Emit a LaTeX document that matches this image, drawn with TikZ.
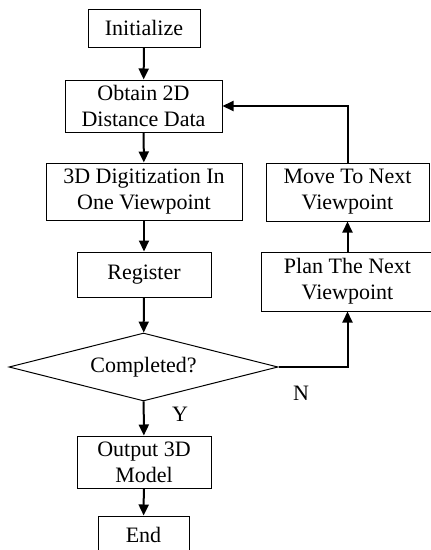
\documentclass[tikz,border=0pt]{standalone}
\usepackage{fontspec}
\setmainfont{Liberation Serif}
\usetikzlibrary{shapes.geometric,arrows.meta}

\begin{document}
\begin{tikzpicture}[-,
					>={Triangle[length=11pt,width=10pt]},
					x=1pt, y=-1pt,
					line width=2pt,
					font=\fontsize{22}{26}\selectfont,
					step box/.style={rectangle,draw,line width=1pt,align=center,inner sep=0pt},
					test node/.style={diamond,draw,line width=1pt,aspect=4,inner sep=0pt,
					                  minimum width=269pt,minimum height=68pt}]

  \useasboundingbox (0,0) rectangle (431,550);

  \node[step box,minimum width=112pt,minimum height=38pt] (init) at (144,28) {Initialize};
  \node[step box,minimum width=157pt,minimum height=52pt] (obtain) at (143.5,106) {Obtain 2D\\Distance Data};
  \node[step box,minimum width=196pt,minimum height=57pt] (digit) at (144,191.5) {3D Digitization In\\One Viewpoint};
  \node[step box,minimum width=134pt,minimum height=45pt] (reg) at (144,274.5) {Register};
  \node[test node] (done) at (143.5,367) {Completed?};
  \node[step box,minimum width=134pt,minimum height=52pt] (out) at (144,462) {Output 3D\\Model};
  \node[step box,minimum width=91pt,minimum height=37pt] (end) at (143.5,534.5) {End};
  \node[step box,minimum width=163pt,minimum height=58pt] (move) at (347.5,192) {Move To Next\\Viewpoint};
  \node[step box,minimum width=173pt,minimum height=59pt] (plan) at (347.5,281.5) {Plan The Next\\Viewpoint};

  \node (yes) at (180,414) {Y};
  \node (no) at (301,393) {N};

  \path[->]
    (init) edge (obtain)
    (obtain) edge (digit)
    (digit) edge (reg)
    (reg) edge (done)
    (done) edge (out)
    (out) edge (end)
    (plan) edge (move);

  \draw[->] (done.east) -| (plan.south);
  \draw[->] (move.north) |- (obtain.east);
\end{tikzpicture}
\end{document}
